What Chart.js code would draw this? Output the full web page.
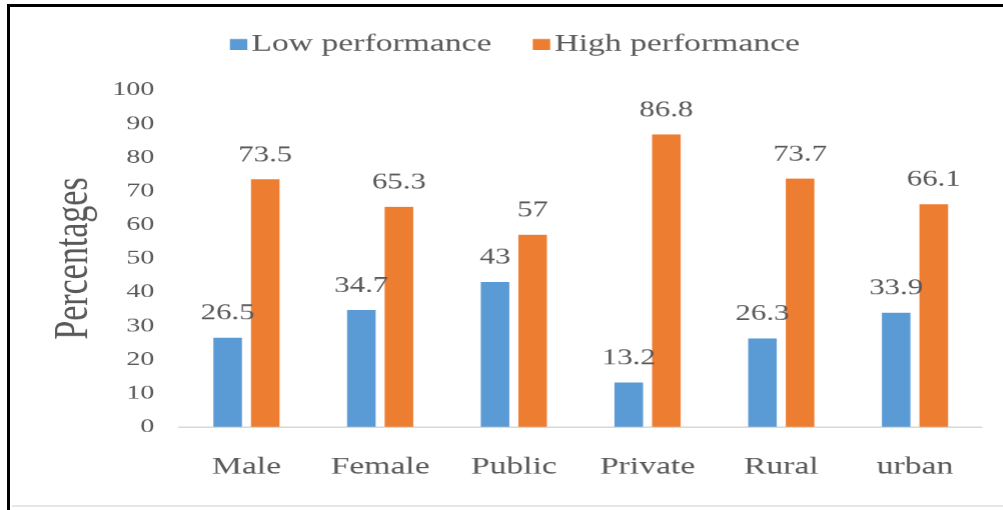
<!DOCTYPE html>
<html>
<head>
<meta charset="utf-8">
<script src="https://cdn.jsdelivr.net/npm/chart.js@4.4.1/dist/chart.umd.min.js"></script>
<style>
  html, body { margin: 0; padding: 0; background: #ffffff; width: 1003px; height: 510px; overflow: hidden; }
  #frame { position: absolute; left: 7px; top: 4px; width: 996px; height: 520px;
           border-top: 3px solid #000; border-left: 3px solid #000; }
  #bottomline { position: absolute; left: 12px; top: 505px; width: 991px; height: 2px; background: #e6e6e6; }
  #c { position: absolute; left: 0; top: 0; transform-origin: 0 0; transform: scaleX(1.4); }
</style>
</head>
<body>
<div id="frame"></div>
<div id="bottomline"></div>
<canvas id="c" width="717" height="510"></canvas>
<script>
const categories = ['Male', 'Female', 'Public', 'Private', 'Rural', 'urban'];
const lowPerformance = [26.5, 34.7, 43, 13.2, 26.3, 33.9];
const highPerformance = [73.5, 65.3, 57, 86.8, 73.7, 66.1];
const seriesNames = ['Low performance', 'High performance'];
const seriesColors = ['#5b9bd5', '#ed7d31'];
const yMin = 0, yMax = 100, yStep = 10;

const GRAY = '#595959';
const FONT = "'Liberation Serif', 'Times New Roman', serif";
Chart.defaults.font.family = FONT;
Chart.defaults.color = GRAY;

// Legend drawn as real text, Excel-like spacing (small box-to-text gap)
const excelLegend = {
  id: 'excelLegend',
  afterDraw(chart) {
    const ctx = chart.ctx;
    ctx.save();
    ctx.font = '24px ' + FONT;
    ctx.textBaseline = 'middle';
    ctx.textAlign = 'left';
    const boxW = 12.4, boxH = 11, gap = 3, spacing = 29.5, cy = 44.5;
    const items = chart.data.datasets.map(ds => ({ text: ds.label, color: ds.backgroundColor,
                                                   w: ctx.measureText(ds.label).width }));
    const total = items.reduce((s, it) => s + boxW + gap + it.w, 0) + spacing * (items.length - 1);
    let x = chart.width / 2 + 9 - total / 2;
    items.forEach(it => {
      ctx.fillStyle = it.color;
      ctx.fillRect(x, cy - boxH / 2, boxW, boxH);
      x += boxW + gap;
      ctx.fillStyle = GRAY;
      ctx.fillText(it.text, x, cy);
      x += it.w + spacing;
    });
    ctx.restore();
  }
};

const valueLabels = {
  id: 'valueLabels',
  afterDatasetsDraw(chart) {
    const ctx = chart.ctx;
    ctx.save();
    ctx.font = '22px ' + FONT;
    ctx.fillStyle = GRAY;
    ctx.textAlign = 'center';
    ctx.textBaseline = 'middle';
    chart.data.datasets.forEach((ds, i) => {
      const meta = chart.getDatasetMeta(i);
      meta.data.forEach((bar, j) => {
        ctx.fillText(String(ds.data[j]), bar.x, bar.y - 24);
      });
    });
    ctx.restore();
  }
};

new Chart(document.getElementById('c'), {
  type: 'bar',
  data: {
    labels: categories,
    datasets: [
      { label: seriesNames[0], data: lowPerformance, backgroundColor: seriesColors[0],
        categoryPercentage: 0.5625, barPercentage: 0.76 },
      { label: seriesNames[1], data: highPerformance, backgroundColor: seriesColors[1],
        categoryPercentage: 0.5625, barPercentage: 0.76 }
    ]
  },
  options: {
    responsive: false,
    devicePixelRatio: 1.4,
    animation: false,
    layout: { padding: { left: 0, right: 16.3, top: 90, bottom: 0 } },
    plugins: {
      legend: { display: false },
      tooltip: { enabled: false }
    },
    scales: {
      x: {
        grid: { display: false, drawTicks: false },
        border: { display: true, color: '#d9d9d9', width: 1.5 },
        ticks: { padding: 26, color: GRAY, font: { size: 24, family: FONT } },
        afterFit(s) { s.height = 83; }
      },
      y: {
        min: yMin, max: yMax,
        grid: { display: false, drawTicks: false },
        border: { display: false },
        ticks: { stepSize: yStep, padding: 18, color: GRAY, font: { size: 20, family: FONT } },
        title: { display: true, text: 'Percentages', color: GRAY,
                 font: { size: 34, family: FONT }, padding: { top: 33, bottom: 0 } },
        afterFit(s) { s.width = 128.2; }
      }
    }
  },
  plugins: [valueLabels, excelLegend]
});
</script>
</body>
</html>
